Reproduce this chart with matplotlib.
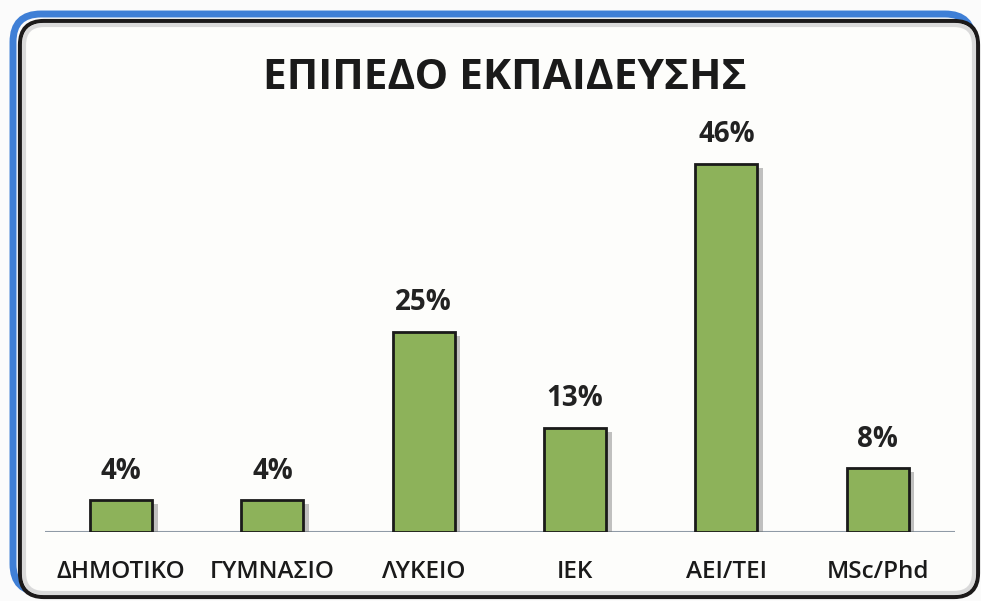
import matplotlib
matplotlib.use("Agg")
import matplotlib.pyplot as plt
import matplotlib.patheffects as pe
from matplotlib.patches import FancyBboxPatch

# data
categories = ["ΔΗΜΟΤΙΚΟ", "ΓΥΜΝΑΣΙΟ", "ΛΥΚΕΙΟ", "ΙΕΚ", "ΑΕΙ/ΤΕΙ", "MSc/Phd"]
percent = [4, 4, 25, 13, 46, 8]
title = "ΕΠΙΠΕΔΟ ΕΚΠΑΙΔΕΥΣΗΣ"

plt.rcParams["font.family"] = ["Open Sans", "DejaVu Sans"]

fig = plt.figure(figsize=(9.81, 6.01), dpi=100)
fig.patch.set_facecolor("#fbfbfb")

# rounded frame, drawn on a full-figure axes in pixel units
bg = fig.add_axes([0, 0, 1, 1])
bg.set_xlim(0, 981)
bg.set_ylim(601, 0)
bg.axis("off")
bg.add_patch(FancyBboxPatch((13, 14), 960, 578, boxstyle="round,pad=0,rounding_size=28",
                            facecolor="none", edgecolor="#3f7fd6", linewidth=5))
bg.add_patch(FancyBboxPatch((20, 21), 958, 576, boxstyle="round,pad=0,rounding_size=24",
                            facecolor="#fdfdfb", edgecolor="#1c1a1a", linewidth=3))
bg.add_patch(FancyBboxPatch((24, 25), 950, 568, boxstyle="round,pad=0,rounding_size=20",
                            facecolor="none", edgecolor="#dadada", linewidth=3))

ax = fig.add_axes([0.046, 0.115, 0.927, 0.666])
x = list(range(len(categories)))
bars = ax.bar(x, percent, width=0.41, color="#8db25a", edgecolor="#1a1a1a", linewidth=2,
              zorder=3)
for b in bars:
    b.set_path_effects([pe.SimplePatchShadow(offset=(4, -3), shadow_rgbFace="#777777", alpha=0.45),
                        pe.Normal()])

for xi, v in zip(x, percent):
    ax.text(xi, v + 3.6, f"{v}%", ha="center", va="center", fontsize=20,
            fontweight="bold", color="#222222")

ax.set_xlim(-0.502, 5.508)
ax.set_ylim(0, 50)
ax.axhline(0, color="#8f9aa6", linewidth=1.5, zorder=2)
ax.set_xticks(x)
ax.set_xticklabels(categories, fontsize=17.5, color="#1a1a1a", fontweight="semibold")
ax.tick_params(axis="x", length=0, pad=20)
ax.set_yticks([])
for s in ax.spines.values():
    s.set_visible(False)
ax.patch.set_alpha(0)

fig.text(0.515, 0.87, title, ha="center", va="center", fontsize=30.5, fontweight="bold",
         color="#1a1a1a")

fig.savefig("out.png", dpi=100, facecolor=fig.get_facecolor())
